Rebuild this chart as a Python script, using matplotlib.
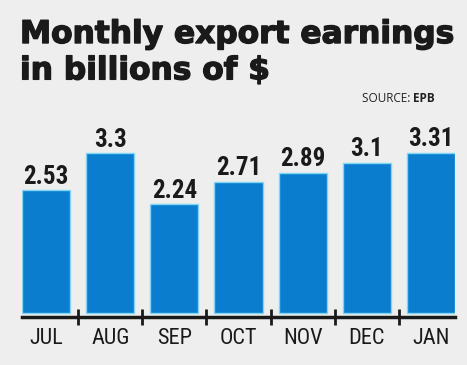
import matplotlib
matplotlib.use("Agg")
import matplotlib.pyplot as plt
import matplotlib.patheffects as pe

months = ["JUL", "AUG", "SEP", "OCT", "NOV", "DEC", "JAN"]
earnings = [2.53, 3.3, 2.24, 2.71, 2.89, 3.1, 3.31]
value_labels = ["2.53", "3.3", "2.24", "2.71", "2.89", "3.1", "3.31"]

bg = "#eeeeee"
narrow = ["Liberation Sans Narrow", "Roboto Condensed", "DejaVu Sans"]

fig = plt.figure(figsize=(4.67, 3.65), dpi=100, facecolor=bg)
ax = fig.add_axes([22 / 467, 47 / 365, 433 / 467, 181 / 365], facecolor=bg)

x = range(len(months))
ax.bar(x, earnings, width=0.75, color="#0a7dcf", edgecolor="#7fd6f2", linewidth=1.0)
for i, v in enumerate(earnings):
    ax.text(i, v + 0.03, value_labels[i], ha="center", va="bottom",
            fontsize=18, fontweight="bold", family=narrow, color="#1a1a1a")

ax.set_xlim(-0.375, 6.375)
ax.set_ylim(-0.1, 3.63)
for s in ["top", "left", "right"]:
    ax.spines[s].set_visible(False)
ax.spines["bottom"].set_position(("data", -0.082))
ax.spines["bottom"].set_linewidth(2.5)
ax.spines["bottom"].set_color("#1a1a1a")
ax.set_yticks([])
ax.set_xticks(list(x))
ax.set_xticklabels(months, family=narrow, fontsize=16, color="#1a1a1a")
ax.tick_params(axis="x", which="major", length=0, pad=8)
ax.set_xticks([i + 0.5 for i in range(len(months) - 1)], minor=True)
ax.tick_params(axis="x", which="minor", direction="inout", length=11, width=2, color="#1a1a1a")

# title, a bit heavier with a stroke
fig.text(20 / 467, 1 - 20 / 365, "Monthly export earnings\nin billions of $", ha="left", va="top",
         fontsize=22.5, fontweight="bold", family=["DejaVu Sans"], color="#1a1a1a",
         linespacing=1.32,
         path_effects=[pe.withStroke(linewidth=1.0, foreground="#1a1a1a")])
fig.text(413 / 467, 1 - 98 / 365, "SOURCE: ", ha="right", va="center",
         fontsize=8.5, family=["Open Sans", "DejaVu Sans"], color="#222222")
fig.text(413 / 467, 1 - 98 / 365, "EPB", ha="left", va="center",
         fontsize=8.5, fontweight="bold", family=["Open Sans", "DejaVu Sans"], color="#222222")

fig.savefig("out.png", dpi=100, facecolor=bg)
